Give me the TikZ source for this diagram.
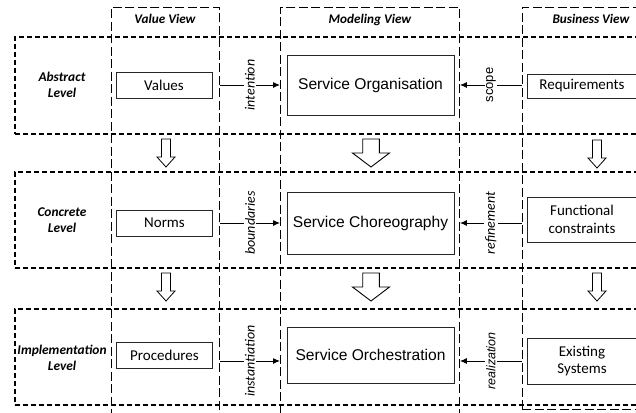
\documentclass[tikz,border=0pt]{standalone}
\usepackage{fontspec}
\setmainfont{Carlito}
\newfontfamily\arialfont{Liberation Sans}
\usetikzlibrary{arrows.meta}

\tikzset{
  viewcol/.style={draw, line width=0.9pt, dash pattern=on 9pt off 3.5pt,
    rectangle, inner sep=0pt, anchor=north west},
  levelbox/.style={draw, line width=1.8pt, dash pattern=on 5pt off 3pt,
    rectangle, inner sep=0pt, anchor=north west},
  item/.style={draw=black!85, line width=0.8pt, fill=white, inner sep=0pt,
    align=center, font=\fontsize{15}{17.5}\selectfont},
  service/.style={item, font=\arialfont\fontsize{15.6}{18}\selectfont},
  viewtitle/.style={font=\bfseries\itshape\fontsize{13.2}{14}\selectfont},
  levellabel/.style={align=center, font=\bfseries\itshape\fontsize{13.4}{15.5}\selectfont},
  rel/.style={fill=white, rotate=90, inner sep=1.5pt,
    font=\itshape\fontsize{14}{16}\selectfont},
  relarial/.style={rel, font=\arialfont\fontsize{13}{15}\selectfont},
  flow/.style={-{Latex[length=7pt,width=6pt]}, line width=1pt},
  pics/thinarrow/.style={code={
    \draw[line width=0.8pt, fill=white]
      (-4.5,0) -- (-4.5,18) -- (-9,18) -- (0,28) -- (9,18) -- (4.5,18) -- (4.5,0) -- cycle;}},
  pics/widearrow/.style={code={
    \draw[line width=0.9pt, fill=white]
      (-8.3,0) -- (-8.3,14) -- (-18.5,14) -- (0,28) -- (18.5,14) -- (8.3,14) -- (8.3,0) -- cycle;}}
}

\begin{document}
\begin{tikzpicture}[x=1pt, y=-1pt]
\useasboundingbox (0,0) rectangle (636,412);
\clip (0,0) rectangle (636,412);

% view columns (the two left ones run off the lower edge)
\node[viewcol, minimum width=108pt, minimum height=407pt] (valueview) at (111,7) {};
\node[viewcol, minimum width=179pt, minimum height=407pt] (modelview) at (280,7) {};
\node[viewcol, minimum width=140pt, minimum height=402pt] (busview) at (522,7) {};
\draw[black!22, line width=1.5pt, dash pattern=on 9pt off 3.5pt]
  (valueview.south west) ++(0,3.3) -- ++(108,0)
  (modelview.south west) ++(0,3.3) -- ++(179,0);

\node[viewtitle] (tvalue) at (165,19) {Value View};
\node[viewtitle] (tmodel) at (370,20) {Modeling View};
\node[viewtitle] (tbus) at (591,19) {Business View};

% abstraction levels
\node[levelbox, minimum width=640pt, minimum height=97pt] (abstract) at (14,36) {};
\node[levelbox, minimum width=640pt, minimum height=96pt] (concrete) at (14,171) {};
\node[levelbox, minimum width=640pt, minimum height=96pt] (implementation) at (14,308) {};

\node[levellabel] (labstract) at (62,85) {Abstract\\Level};
\node[levellabel] (lconcrete) at (62,220) {Concrete\\Level};
\node[levellabel] (limpl) at (62,358) {Implementation\\Level};

% value view
\node[item, minimum width=96pt, minimum height=26pt] (values) at (164,85) {Values};
\node[item, minimum width=96pt, minimum height=26pt] (norms) at (164.5,223) {Norms};
\node[item, minimum width=96pt, minimum height=26pt] (procedures) at (164.5,355) {Procedures};

% modeling view
\node[service, minimum width=167pt, minimum height=60pt] (organisation) at (370.5,85) {Service Organisation};
\node[service, minimum width=167pt, minimum height=62pt] (choreography) at (370.5,223) {Service Choreography};
\node[service, minimum width=167pt, minimum height=56pt] (orchestration) at (370.5,355) {Service Orchestration};

% business view
\node[item, minimum width=110pt, minimum height=24pt] (requirements) at (582,86) {Requirements};
\node[item, minimum width=110pt, minimum height=45pt] (functional) at (582,219.5) {Functional\\constraints};
\node[item, minimum width=110pt, minimum height=46pt] (existing) at (582,361) {Existing\\Systems};

% refinement between levels
\pic at (166,139) {thinarrow};
\pic at (371,139) {widearrow};
\pic at (597,140) {thinarrow};
\pic at (166,273) {thinarrow};
\pic at (371,273) {widearrow};
\pic at (597,273) {thinarrow};

% relations towards the modeling view
\draw[flow] (valueview.east |- values) -- node[rel] {intention} (modelview.west |- values);
\draw[flow] (valueview.east |- choreography) -- node[rel] {boundaries} (modelview.west |- choreography);
\draw[flow] (valueview.east |- existing) -- node[rel] {instantiation} (modelview.west |- existing);

\draw[flow] (busview.west |- organisation) -- node[relarial] {scope} (modelview.east |- organisation);
\draw[flow] (busview.west |- choreography) -- node[rel] {refinement} (modelview.east |- choreography);
\draw[flow] (busview.west |- existing) -- node[relarial, font=\arialfont\itshape\fontsize{12.5}{15}\selectfont] {realization} (modelview.east |- existing);
\end{tikzpicture}
\end{document}
